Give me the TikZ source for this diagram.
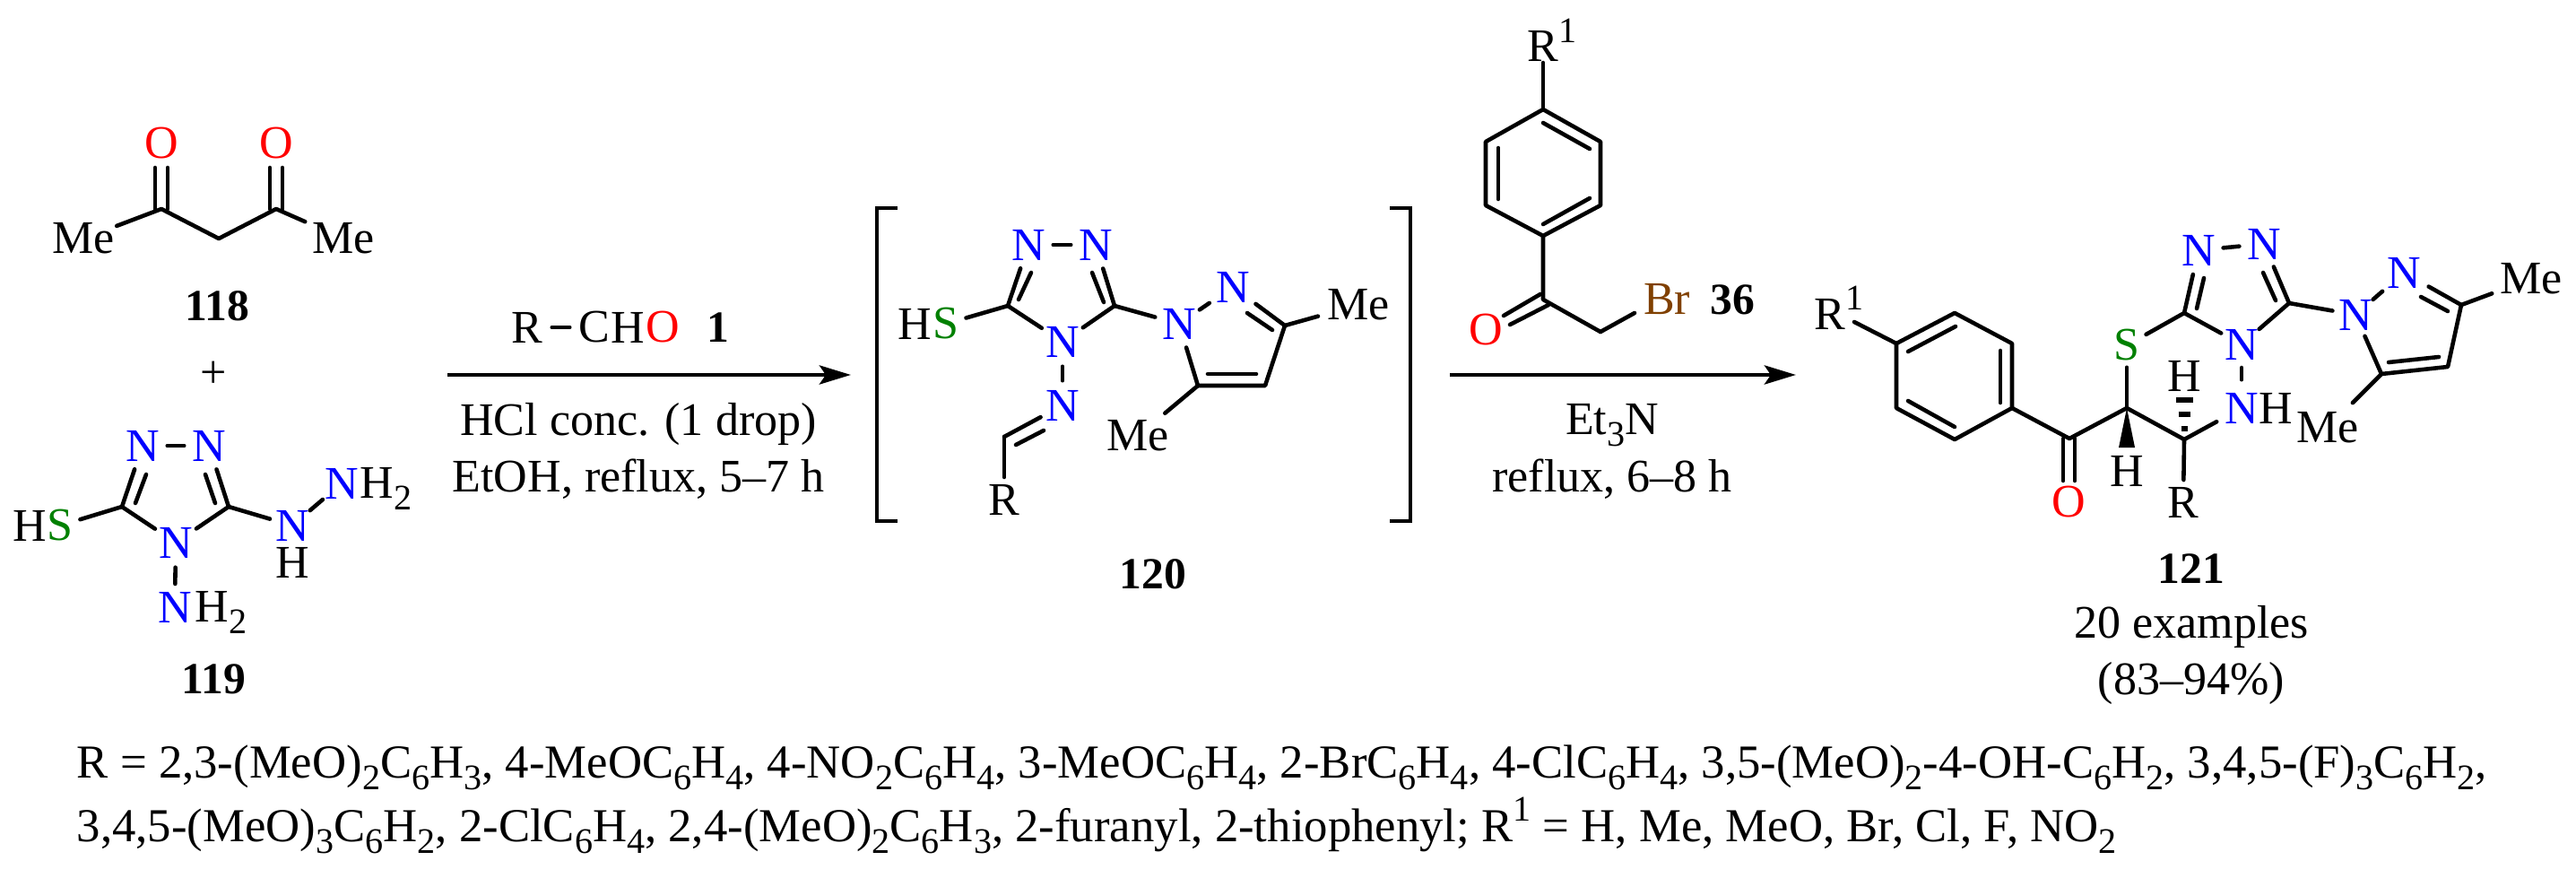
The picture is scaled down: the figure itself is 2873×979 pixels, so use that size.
\documentclass[tikz,border=0pt]{standalone}
\usepackage{fontspec}
\setmainfont{Liberation Serif}
\usetikzlibrary{arrows.meta}
\definecolor{nblue}{RGB}{0,0,255}
\definecolor{ored}{RGB}{255,0,0}
\definecolor{sgreen}{RGB}{0,128,0}
\definecolor{brbrown}{RGB}{128,64,0}
\newcommand\sbs[1]{\raisebox{-0.25em}{\fontsize{11.4}{12}\selectfont #1}}
\newcommand\sps[1]{\raisebox{0.42em}{\fontsize{11.4}{12}\selectfont #1}}
\newcommand\innerbond[3]{\coordinate (#1a) at (#2); \coordinate (#1b) at (#3); \draw[bond] (#1a) -- (#1b);}
\tikzset{
  bond/.style={line width=1.3pt,line cap=round,line join=round},
  rxn/.style={line width=1.35pt,-{Stealth[length=0.35cm,width=0.21cm,inset=0.07cm]}},
  brk/.style={line width=1.35pt,line cap=butt,line join=miter},
  atom/.style={circle,inner sep=0pt,minimum size=0.54cm,font=\fontsize{14.8}{16}\selectfont},
  me/.style={atom,minimum size=0.8cm},
  nat/.style={atom,text=nblue},
  oat/.style={atom,text=ored},
  sat/.style={atom,text=sgreen},
  lab/.style={inner sep=0pt,font=\fontsize{14.8}{16}\selectfont},
  foot/.style={inner sep=0pt,font=\fontsize{15}{16}\selectfont},
  num/.style={lab,font=\fontsize{14.1}{16}\selectfont\bfseries},
}
\begin{document}
\begin{tikzpicture}[x=0.01cm,y=-0.01cm]
\useasboundingbox (0,0) rectangle (2873,979);
% ---- 118
\node[oat] (o1) at (180,160) {O};
\node[oat] (o2) at (308,160) {O};
\node[me,minimum size=0.78cm] (me1) at (93,266) {Me};
\node[me,minimum size=0.92cm] (me2) at (383,266) {Me};
\coordinate (a1) at (180,233);
\coordinate (a2) at (244,266);
\coordinate (a3) at (308,233);
\draw[bond] (me1) -- (a1) -- (a2) -- (a3) -- (me2);
\innerbond{a4}{173,233}{173,187}
\innerbond{a5}{187,233}{187,187}
\innerbond{a6}{301,233}{301,187}
\innerbond{a7}{315,233}{315,187}
\node[num] (n118) at (242,341) {118};
\node[lab] (plus) at (238,418) {+};
% ---- 119
\node[nat] (b1) at (159,497) {N};
\node[nat] (b2) at (233,497) {N};
\node[nat] (b3) at (196,605) {N};
\coordinate (bc1) at (136,565);
\coordinate (bc2) at (255,565);
\draw[bond] (b1) -- (b2);
\draw[bond] (bc1) -- (b1);
\draw[bond] (bc2) -- (b2);
\draw[bond] (bc1) -- (b3);
\draw[bond] (bc2) -- (b3);
\innerbond{b4}{151,561}{163,529}
\innerbond{b5}{240,561}{229,529}
\node[lab] (bh) at (33,586) {H};
\node[sat,minimum size=0.44cm] (bs) at (67,586) {S};
\draw[bond] (bc1) -- (bs);
\node[nat,minimum size=0.5cm] (b6) at (326,586) {N};
\node[lab] (b6h) at (326,627) {H};
\draw[bond] (bc2) -- (b6);
\node[nat] (b7) at (381,539) {N};
\node[lab,anchor=base west] (b7h) at (401,555) {H\sbs{2}};
\draw[bond] (b6) -- (b7);
\node[nat,minimum size=0.46cm] (b8) at (195,677) {N};
\node[lab,anchor=base west] (b8h) at (217,693) {H\sbs{2}};
\draw[bond] (b3) -- (b8);
\node[num] (n119) at (238,757) {119};
% ---- arrow 1
\coordinate (r1s) at (499,418);
\coordinate (r1e) at (949,418);
\draw[rxn] (r1s) -- (r1e);
\node[atom] (rr) at (588,365) {R};
\node[atom] (rc) at (663,365) {C};
\node[lab,anchor=base west] (rh) at (681,382) {H};
\node[lab,text=ored] (ro) at (739,365) {O};
\node[num] (r1n) at (801,365) {1};
\draw[bond] (rr) -- (rc);
\node[lab] (c1) at (712,473) {HCl conc. (1 drop)};
\node[lab] (c2) at (712,534) {EtOH, reflux, 5--7 h};
% ---- 120 brackets
\coordinate (bl1) at (1001,232);\coordinate (bl2) at (978,232);\coordinate (bl3) at (978,581);\coordinate (bl4) at (1001,581);
\coordinate (br1) at (1550,232);\coordinate (br2) at (1573,232);\coordinate (br3) at (1573,581);\coordinate (br4) at (1550,581);
\draw[brk] (bl1) -- (bl2) -- (bl3) -- (bl4);
\draw[brk] (br1) -- (br2) -- (br3) -- (br4);
% ---- 120
\node[nat] (t1) at (1147,273) {N};
\node[nat] (t2) at (1222,273) {N};
\node[nat] (t3) at (1185,381) {N};
\coordinate (tc1) at (1124,341);
\coordinate (tc2) at (1243,341);
\draw[bond] (t1) -- (t2);
\draw[bond] (tc1) -- (t1);
\draw[bond] (tc2) -- (t2);
\draw[bond] (tc1) -- (t3);
\draw[bond] (tc2) -- (t3);
\innerbond{t4}{1136,334}{1150,304}
\innerbond{t5}{1231,337}{1218,304}
\node[lab] (th) at (1020,361) {H};
\node[sat,minimum size=0.44cm] (ts) at (1055,361) {S};
\draw[bond] (tc1) -- (ts);
\node[nat] (p1) at (1315,361) {N};
\node[nat,minimum size=0.62cm] (p2) at (1375,320) {N};
\draw[bond] (tc2) -- (p1);
\draw[bond] (p1) -- (p2);
\coordinate (pc3) at (1433,363);
\coordinate (pc4) at (1411,430);
\coordinate (pc5) at (1336,430);
\draw[bond] (p2) -- (pc3) -- (pc4) -- (pc5) -- (p1);
\innerbond{p3}{1419,368}{1391,349}
\innerbond{p4}{1347,417}{1401,417}
\node[me,minimum size=0.92cm] (pm1) at (1515,340) {Me};
\node[me,minimum size=0.74cm] (pm2) at (1269,486) {Me};
\draw[bond] (pc3) -- (pm1);
\draw[bond] (pc5) -- (pm2);
\node[nat] (t6) at (1185,452) {N};
\draw[bond] (t3) -- (t6);
\coordinate (tc6) at (1120,487);
\draw[bond] (t6) -- (tc6);
\innerbond{t7}{1133,496}{1164,480}
\node[atom,minimum size=0.44cm] (tr) at (1120,557) {R};
\draw[bond] (tc6) -- (tr);
\node[num] (n120) at (1286,640) {120};
% ---- 36
\node[lab,anchor=base west] (s36r) at (1703,69) {R\sps{1}};
\coordinate (d0) at (1721,70);
\coordinate (d1) at (1721,122);
\coordinate (d2) at (1785,158);
\coordinate (d3) at (1785,229);
\coordinate (d4) at (1721,263);
\coordinate (d5) at (1657,229);
\coordinate (d6) at (1657,158);
\draw[bond] (d0) -- (d1);
\draw[bond] (d1) -- (d2) -- (d3) -- (d4) -- (d5) -- (d6) -- cycle;
\innerbond{d7}{1721,137}{1773,166}
\innerbond{d8}{1671,165}{1671,222}
\innerbond{d9}{1721,250}{1773,221}
\coordinate (dc) at (1721,334);
\coordinate (dch) at (1785,370);
\draw[bond] (d4) -- (dc) -- (dch);
\node[oat] (do) at (1657,368) {O};
\innerbond{da}{1718,328}{1677,352}
\innerbond{db}{1727,340}{1684,362}
\node[lab,text=brbrown] (dbr) at (1859,334) {Br};
\coordinate (dbre) at (1823,349);
\draw[bond] (dch) -- (dbre);
\node[num] (n36) at (1932,334) {36};
% ---- arrow 2
\coordinate (r2s) at (1617,418);
\coordinate (r2e) at (2003,418);
\draw[rxn] (r2s) -- (r2e);
\node[lab] (c3) at (1798,474) {Et\sbs{3}N};
\node[lab] (c4) at (1798,534) {reflux, 6--8 h};
% ---- 121
\node[lab,anchor=base west] (s121r) at (2023,367) {R\sps{1}};
\coordinate (e0) at (2068,359);
\coordinate (e1) at (2115,383);
\coordinate (e2) at (2180,349);
\coordinate (e3) at (2244,383);
\coordinate (e4) at (2244,455);
\coordinate (e5) at (2180,490);
\coordinate (e6) at (2115,455);
\draw[bond] (e0) -- (e1);
\draw[bond] (e1) -- (e2) -- (e3) -- (e4) -- (e5) -- (e6) -- cycle;
\innerbond{e7}{2128,392}{2181,364}
\innerbond{e8}{2231,391}{2231,449}
\innerbond{e9}{2128,447}{2180,476}
\coordinate (f1) at (2308,489);
\coordinate (f2) at (2372,455);
\coordinate (f3) at (2436,490);
\draw[bond] (e4) -- (f1) -- (f2) -- (f3);
\innerbond{fa}{2301,489}{2301,536}
\innerbond{fb}{2314,489}{2314,536}
\node[oat] (fo) at (2307,560) {O};
\coordinate (fwl) at (2363,499);
\coordinate (fwr) at (2381,499);
\fill (f2) -- (fwr) -- (fwl) -- cycle;
\node[lab] (fh1) at (2372,525) {H};
\node[sat,minimum size=0.48cm] (fs) at (2372,385) {S};
\draw[bond] (fs) -- (f2);
\node[atom,minimum size=0.48cm] (fr) at (2435,560) {R};
\draw[bond] (f3) -- (fr);
\node[lab] (fh2) at (2436,419) {H};
\coordinate (fh3) at (2436,446);
\coordinate (fh4) at (2436,462);
\coordinate (fh5) at (2436,478);
\draw[line width=1.5pt] ([xshift=-0.095cm]fh3) -- ([xshift=0.095cm]fh3);
\draw[line width=1.5pt] ([xshift=-0.065cm]fh4) -- ([xshift=0.065cm]fh4);
\draw[line width=1.5pt] ([xshift=-0.035cm]fh5) -- ([xshift=0.035cm]fh5);
\node[nat,minimum size=0.62cm] (g1) at (2500,455) {N};
\node[lab] (g1h) at (2538,455) {H};
\draw[bond] (f3) -- (g1);
\node[nat,minimum size=0.5cm] (g2) at (2500,384) {N};
\draw[bond] (g1) -- (g2);
\coordinate (gc1) at (2436,349);
\coordinate (gc2) at (2553,338);
\node[nat] (g3) at (2452,279) {N};
\node[nat] (g4) at (2525,272) {N};
\draw[bond] (g3) -- (g4);
\draw[bond] (gc1) -- (g3);
\draw[bond] (gc2) -- (g4);
\draw[bond] (gc1) -- (fs);
\draw[bond] (gc1) -- (g2);
\draw[bond] (gc2) -- (g2);
\innerbond{g5}{2450,344}{2458,310}
\innerbond{g6}{2538,335}{2524,304}
\node[nat,minimum size=0.46cm] (q1) at (2627,351) {N};
\node[nat,minimum size=0.62cm] (q2) at (2681,304) {N};
\draw[bond] (gc2) -- (q1);
\draw[bond] (q1) -- (q2);
\coordinate (qc3) at (2745,340);
\coordinate (qc4) at (2730,409);
\coordinate (qc5) at (2656,417);
\draw[bond] (q2) -- (qc3) -- (qc4) -- (qc5) -- (q1);
\innerbond{q3}{2730,347}{2700,331}
\innerbond{q4}{2664,404}{2720,398}
\node[me,minimum size=0.92cm] (qm1) at (2823,311) {Me};
\node[me,minimum size=0.72cm] (qm2) at (2596,477) {Me};
\draw[bond] (qc3) -- (qm1);
\draw[bond] (qc5) -- (qm2);
\node[num] (n121) at (2444,634) {121};
\node[lab] (c5) at (2444,699) {20 examples};
\node[lab] (c6) at (2444,762) {(83--94\%)};
% ---- footnote
\node[foot,anchor=base west] (l1) at (85,867) {R = 2,3-(MeO)\sbs{2}C\sbs{6}H\sbs{3}, 4-MeOC\sbs{6}H\sbs{4}, 4-NO\sbs{2}C\sbs{6}H\sbs{4}, 3-MeOC\sbs{6}H\sbs{4}, 2-BrC\sbs{6}H\sbs{4}, 4-ClC\sbs{6}H\sbs{4}, 3,5-(MeO)\sbs{2}-4-OH-C\sbs{6}H\sbs{2}, 3,4,5-(F)\sbs{3}C\sbs{6}H\sbs{2},};
\node[foot,anchor=base west] (l2) at (85,938) {3,4,5-(MeO)\sbs{3}C\sbs{6}H\sbs{2}, 2-ClC\sbs{6}H\sbs{4}, 2,4-(MeO)\sbs{2}C\sbs{6}H\sbs{3}, 2-furanyl, 2-thiophenyl; R\sps{1} = H, Me, MeO, Br, Cl, F, NO\sbs{2}};
\end{tikzpicture}
\end{document}
